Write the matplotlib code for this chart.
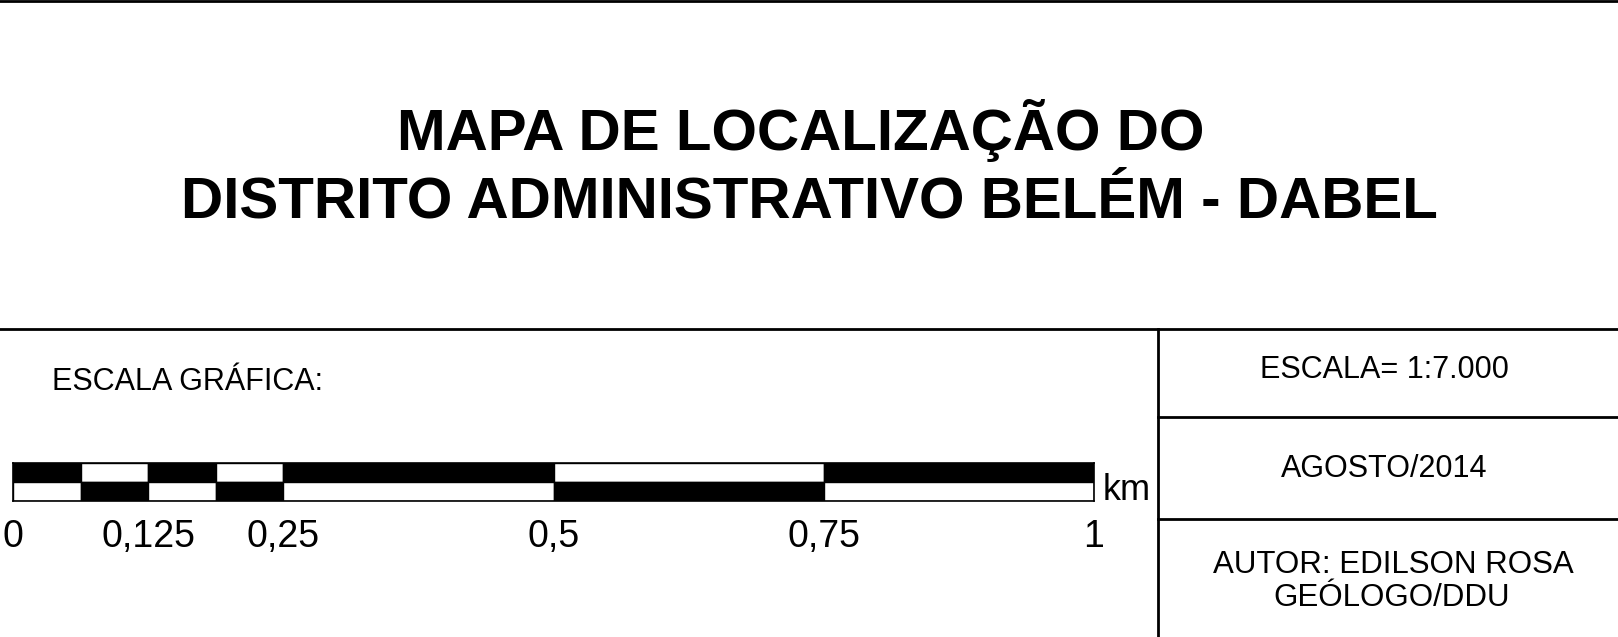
import matplotlib
matplotlib.use("Agg")
import matplotlib.pyplot as plt

plt.rcParams['font.family'] = ['Liberation Sans', 'DejaVu Sans']

W, H = 1618, 637

title_lines = ["MAPA DE LOCALIZAÇÃO DO", "DISTRITO ADMINISTRATIVO BELÉM - DABEL"]
info_lines = ["ESCALA= 1:7.000", "AGOSTO/2014", "AUTOR: EDILSON ROSA\nGEÓLOGO/DDU"]
scale_label = "ESCALA GRÁFICA:"

# scale bar segments (km)
seg_left = [0, 0.0625, 0.125, 0.1875, 0.25, 0.5, 0.75]
seg_width = [0.0625, 0.0625, 0.0625, 0.0625, 0.25, 0.25, 0.25]
top_black = [True, False, True, False, True, False, True]
tick_km = [0, 0.125, 0.25, 0.5, 0.75, 1]
tick_txt = ["0", "0,125", "0,25", "0,5", "0,75", "1"]

fig = plt.figure(figsize=(W / 100, H / 100), dpi=100)
ax = fig.add_axes([0, 0, 1, 1])
ax.set_xlim(0, W)
ax.set_ylim(H, 0)
ax.axis('off')

lw = 2
ax.plot([0, W], [1, 1], color='black', lw=lw)
ax.plot([0, W], [329, 329], color='black', lw=lw)
ax.plot([1158, 1158], [329, H], color='black', lw=lw)
ax.plot([1158, W], [417, 417], color='black', lw=lw)
ax.plot([1158, W], [519, 519], color='black', lw=lw)

ax.text(801, 150, title_lines[0], ha='center', va='baseline', fontsize=42, fontweight='bold')
ax.text(809, 217, title_lines[1], ha='center', va='baseline', fontsize=42, fontweight='bold')

ax.text(52, 390, scale_label, ha='left', va='baseline', fontsize=22)

ax.text(1384, 378, info_lines[0], ha='center', va='baseline', fontsize=22)
ax.text(1384, 477, info_lines[1], ha='center', va='baseline', fontsize=22)
auth = info_lines[2].split("\n")
ax.text(1393, 573, auth[0], ha='center', va='baseline', fontsize=22.5)
ax.text(1392, 606, auth[1], ha='center', va='baseline', fontsize=22.5)

ax.text(1103, 500, "km", ha='left', va='baseline', fontsize=26)

# scale bar axes in km
x0, x1, y_top, y_bot = 13, 1094, 463, 501
bar = fig.add_axes([x0 / W, (H - y_bot) / H, (x1 - x0) / W, (y_bot - y_top) / H])
bar.set_xlim(0, 1)
bar.set_ylim(0, 2)
top_col = ['black' if b else 'white' for b in top_black]
bot_col = ['white' if b else 'black' for b in top_black]
bar.barh([1.5] * len(seg_left), seg_width, left=seg_left, height=1, color=top_col,
         edgecolor='black', linewidth=1)
bar.barh([0.5] * len(seg_left), seg_width, left=seg_left, height=1, color=bot_col,
         edgecolor='black', linewidth=1)
for s in bar.spines.values():
    s.set_linewidth(1.2)
bar.set_yticks([])
bar.set_xticks(tick_km)
bar.set_xticklabels(tick_txt, fontsize=27)
bar.tick_params(axis='x', length=0, pad=33)
for lbl in bar.get_xticklabels():
    lbl.set_va('baseline')

fig.savefig("out.png", dpi=100)
